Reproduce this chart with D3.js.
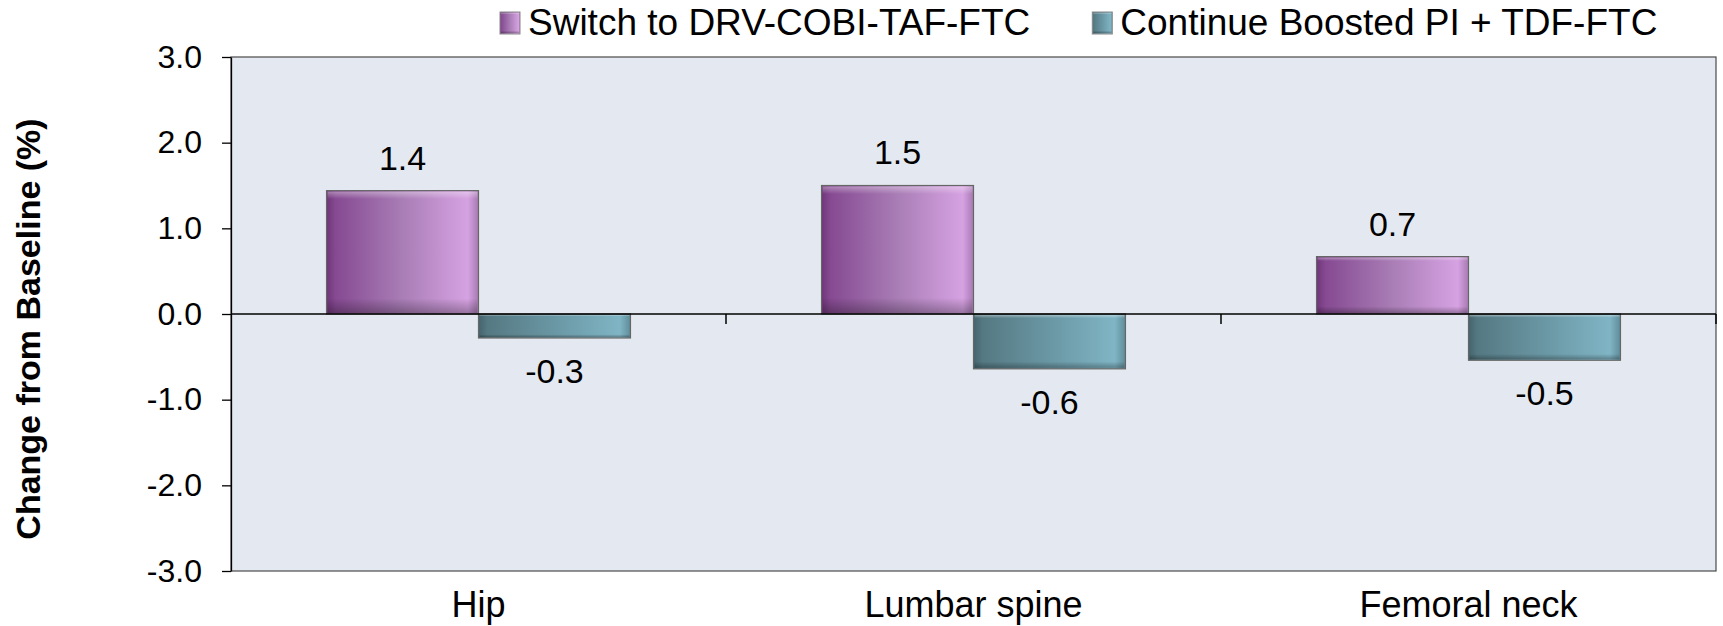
<!DOCTYPE html>
<html>
<head>
<meta charset="utf-8">
<script src="https://cdn.jsdelivr.net/npm/d3@7"></script>
<style>
  html, body { margin: 0; padding: 0; background: #ffffff; }
  svg { display: block; }
  text { font-family: "Liberation Sans", Arial, sans-serif; fill: #000; }
</style>
</head>
<body>
<svg id="chart" width="1723" height="626"></svg>
<script>
// ---- data ----
const categories = ["Hip", "Lumbar spine", "Femoral neck"];
const seriesNames = ["Switch to DRV-COBI-TAF-FTC", "Continue Boosted PI + TDF-FTC"];
const switchValues = [1.44, 1.50, 0.67];
const continueValues = [-0.28, -0.64, -0.54];
const yTicks = [-3, -2, -1, 0, 1, 2, 3];

// ---- layout ----
const plot = { left: 231, right: 1716, top: 57, bottom: 571 };
const svg = d3.select("#chart");
const defs = svg.append("defs");

function hGrad(id, stops) {
  const g = defs.append("linearGradient").attr("id", id)
    .attr("x1", "0%").attr("x2", "100%").attr("y1", "0%").attr("y2", "0%");
  stops.forEach(s => g.append("stop").attr("offset", s[0]).attr("stop-color", s[1]));
}
hGrad("gPurple", [["0%", "#6f3579"], ["6%", "#864a92"], ["50%", "#a97db6"], ["93%", "#d6a2e2"], ["100%", "#a679b2"]]);
hGrad("gTeal", [["0%", "#45636c"], ["6%", "#557983"], ["50%", "#6a97a4"], ["93%", "#80b5c5"], ["100%", "#5f8c99"]]);
// bevel overlay (vertical)
const bev = defs.append("linearGradient").attr("id", "gBevel")
  .attr("x1", "0%").attr("x2", "0%").attr("y1", "0%").attr("y2", "100%");
[["0%", "#ffffff", 0.35], ["6%", "#ffffff", 0.0], ["88%", "#000000", 0.0], ["100%", "#000000", 0.28]]
  .forEach(s => bev.append("stop").attr("offset", s[0]).attr("stop-color", s[1]).attr("stop-opacity", s[2]));

const y = d3.scaleLinear().domain([-3, 3]).range([plot.bottom, plot.top]);
const x0 = d3.scaleBand().domain(categories).range([plot.left, plot.right])
  .paddingInner(0.386).paddingOuter(0.193);
const x1 = d3.scaleBand().domain([0, 1]).range([0, x0.bandwidth()]).padding(0);

// plot background
svg.append("rect")
  .attr("x", plot.left).attr("y", plot.top)
  .attr("width", plot.right - plot.left).attr("height", plot.bottom - plot.top)
  .attr("fill", "#e4e9f1").attr("stroke", "#4a4a4a").attr("stroke-width", 1.2);

// y axis
const yAxis = svg.append("g").attr("transform", `translate(${plot.left},0)`)
  .call(d3.axisLeft(y).tickValues(yTicks).tickFormat(d => d.toFixed(1))
    .tickSize(9).tickSizeOuter(0).tickPadding(20));
yAxis.select(".domain").attr("stroke", "#000").attr("stroke-width", 1.3);
yAxis.selectAll(".tick line").attr("stroke", "#000").attr("stroke-width", 1.3);
yAxis.selectAll(".tick text")
  .style("font-size", "32px").style("font-family", "'Liberation Sans', Arial, sans-serif")
  .attr("fill", "#000");

// bars
const series = [
  { name: seriesNames[0], values: switchValues, fill: "url(#gPurple)", key: 0 },
  { name: seriesNames[1], values: continueValues, fill: "url(#gTeal)", key: 1 }
];
const barsG = svg.append("g");
series.forEach(s => {
  const g = barsG.append("g");
  const data = categories.map((c, i) => ({ c, v: s.values[i] }));
  g.selectAll("rect.bar").data(data).join("rect").attr("class", "bar")
    .attr("x", d => x0(d.c) + x1(s.key))
    .attr("y", d => y(Math.max(0, d.v)))
    .attr("width", x1.bandwidth())
    .attr("height", d => Math.abs(y(d.v) - y(0)))
    .attr("fill", s.fill)
    .attr("stroke", "#666").attr("stroke-width", 1.2);
  g.selectAll("rect.bev").data(data).join("rect").attr("class", "bev")
    .attr("x", d => x0(d.c) + x1(s.key) + 1)
    .attr("y", d => y(Math.max(0, d.v)) + 1)
    .attr("width", x1.bandwidth() - 2)
    .attr("height", d => Math.max(0, Math.abs(y(d.v) - y(0)) - 2))
    .attr("fill", "url(#gBevel)");
  g.selectAll("text").data(data).join("text")
    .attr("x", d => x0(d.c) + x1(s.key) + x1.bandwidth() / 2)
    .attr("y", d => d.v >= 0 ? y(d.v) - 33 : y(d.v) + 33)
    .attr("dy", "0.35em")
    .attr("text-anchor", "middle")
    .style("font-size", "34px")
    .text(d => d.v.toFixed(1));
});

// zero line + category boundary ticks
svg.append("line")
  .attr("x1", plot.left).attr("x2", plot.right)
  .attr("y1", y(0)).attr("y2", y(0))
  .attr("stroke", "#000").attr("stroke-width", 1.5);
const step = x0.step();
const boundaries = d3.range(categories.length + 1).map(i => plot.left + i * step);
svg.append("g").selectAll("line").data(boundaries.slice(1)).join("line")
  .attr("x1", d => d).attr("x2", d => d)
  .attr("y1", y(0)).attr("y2", y(0) + 10)
  .attr("stroke", "#000").attr("stroke-width", 1.5);

// category labels
svg.append("g").selectAll("text").data(categories).join("text")
  .attr("x", d => x0(d) + x0.bandwidth() / 2)
  .attr("y", plot.bottom + 46)
  .attr("text-anchor", "middle")
  .style("font-size", "36px")
  .text(d => d);

// y axis title
svg.append("text")
  .attr("transform", `translate(40,329) rotate(-90)`)
  .attr("text-anchor", "middle")
  .style("font-size", "34px").style("font-weight", "bold")
  .text("Change from Baseline (%)");

// legend
const legend = svg.append("g");
let lx = 500;
series.forEach((s, i) => {
  const item = legend.append("g");
  item.append("rect").attr("x", lx).attr("y", 12).attr("width", 20).attr("height", 22)
    .attr("fill", s.fill).attr("stroke", "#8a8a8a").attr("stroke-width", 1);
  item.append("rect").attr("x", lx + 1).attr("y", 13).attr("width", 18).attr("height", 20)
    .attr("fill", "url(#gBevel)");
  const t = item.append("text")
    .attr("x", lx + 28).attr("y", 35)
    .style("font-size", "37px")
    .text(s.name);
  lx = lx + 28 + t.node().getComputedTextLength() + 62;
});
</script>
</body>
</html>
